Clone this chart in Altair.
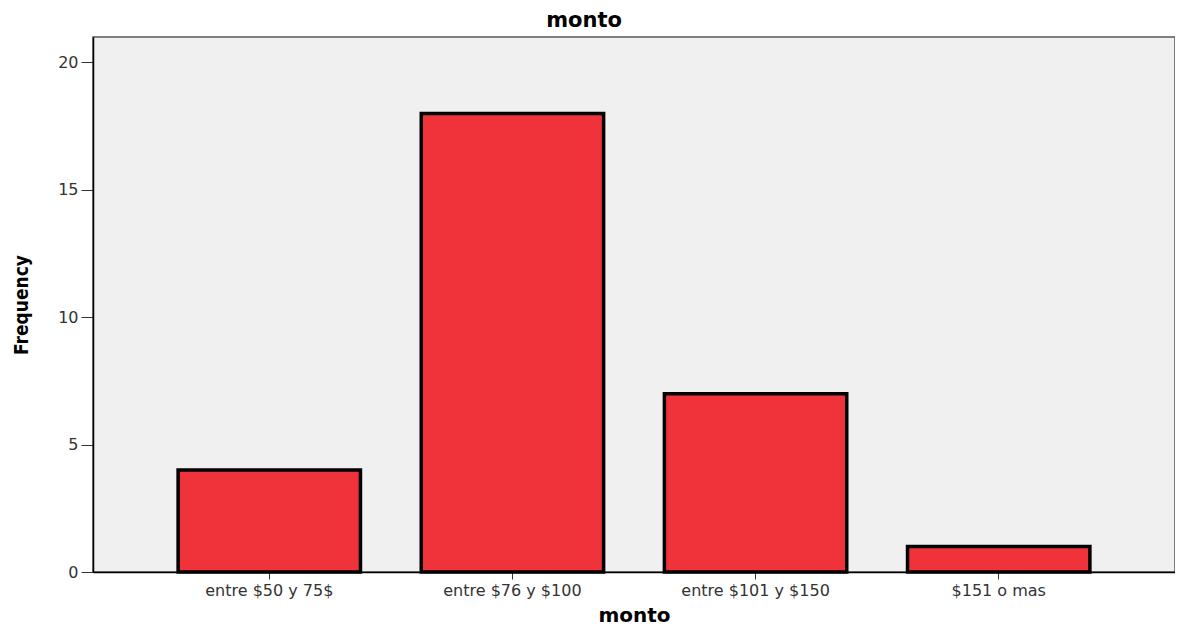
import altair as alt
import pandas as pd

categories = ["entre $50 y 75$", "entre $76 y $100", "entre $101 y $150", "$151 o mas"]
frequency = [4, 18, 7, 1]

df = pd.DataFrame({"monto": categories, "Frequency": frequency})

W, H = 1082, 535

bars = alt.Chart(df).mark_bar(
    color="#F0323A", stroke="#000000", strokeWidth=3.5
).encode(
    x=alt.X(
        "monto:N", sort=categories,
        scale=alt.Scale(paddingInner=0.25, paddingOuter=0.35),
        axis=alt.Axis(
            title="monto", labelAngle=0, tickSize=7, labelPadding=3,
            labelFont="DejaVu Sans", labelFontSize=16, labelColor="#333333",
            tickColor="#333333", domainColor="#000000", domainWidth=1.5,
            titleFont="DejaVu Sans", titleFontSize=20, titleFontWeight="bold",
            titleColor="#000000", titleY=49, titleBaseline="alphabetic",
        ),
    ),
    y=alt.Y(
        "Frequency:Q",
        scale=alt.Scale(domain=[0, 21], nice=False),
        axis=alt.Axis(
            title="Frequency", values=[0, 5, 10, 15, 20], grid=False,
            tickSize=12, labelPadding=3, tickColor="#333333",
            labelFont="DejaVu Sans", labelFontSize=16, labelColor="#333333",
            domainColor="#000000", domainWidth=1.5,
            titleFont="'DejaVu Sans Condensed', 'Liberation Sans', sans-serif",
            titleFontSize=19,
            titleFontWeight="bold", titleColor="#000000",
            titleX=-72, titleY=H / 2, titleAngle=270,
            titleAlign="center", titleBaseline="middle",
        ),
    ),
)

chart = bars.properties(
    width=W, height=H,
    title=alt.TitleParams(
        "monto", font="DejaVu Sans", fontSize=21, fontWeight="bold",
        color="#000000", anchor="middle", frame="group", dx=-50, offset=6,
    ),
    padding={"left": 85, "top": 29, "right": 0, "bottom": 55},
    autosize=alt.AutoSizeParams(type="none"),
    background="#ffffff",
).configure_view(
    fill="#F0F0F0", stroke="#555555", strokeWidth=1.5,
)

chart.save("out.html", embed_options={"renderer": "svg", "actions": False})
